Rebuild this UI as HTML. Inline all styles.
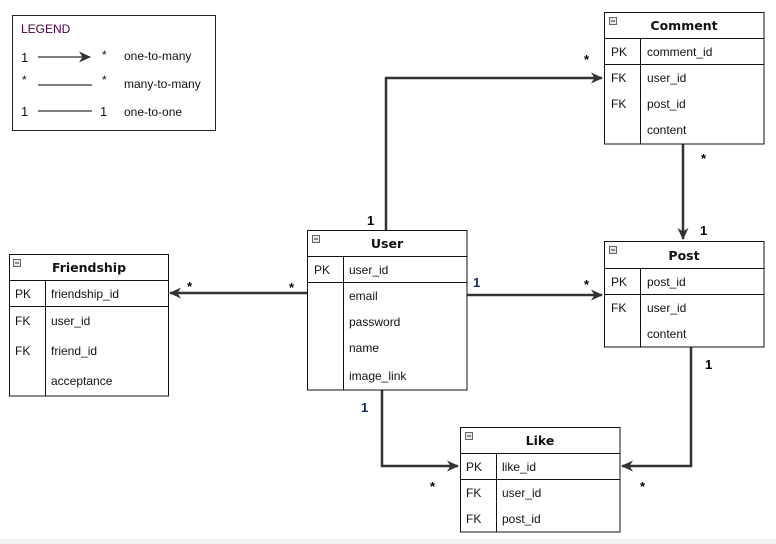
<!DOCTYPE html>
<html><head><meta charset="utf-8"><style>
html,body{margin:0;padding:0;background:#fff;}
svg{display:block;}
text{font-family:"Liberation Sans",Arial,sans-serif;font-size:12px;fill:#111;}
.t{font-family:"DejaVu Sans","Liberation Sans",sans-serif;font-weight:bold;font-size:12.5px;}
.l{font-weight:bold;font-size:13px;fill:#000;}
.n{font-weight:bold;font-size:13px;fill:#1a237e;}
</style></head><body>
<svg width="776" height="544" viewBox="0 0 776 544" xmlns="http://www.w3.org/2000/svg">
<defs>
<marker id="a" markerWidth="14" markerHeight="14" refX="11" refY="7" orient="auto" markerUnits="userSpaceOnUse">
<path d="M0,1.5 L12,7 L0,12.5 L3.5,7 Z" fill="#333"/></marker>
<g id="ic"><rect x="0" y="0" width="7" height="7" fill="#e8e8e8" stroke="#666" stroke-width="1"/><line x1="1.5" y1="3.5" x2="5.5" y2="3.5" stroke="#333"/></g>
</defs>
<rect x="0" y="539" width="776" height="5" fill="#f4f4f4"/>
<!-- legend -->
<rect x="12.5" y="15.5" width="203" height="115" fill="#fff" stroke="#222"/>
<text x="21" y="33" style="fill:#4a0040">LEGEND</text>
<text x="21" y="62" style="font-size:13px">1</text>
<line x1="38" y1="57" x2="90" y2="57" stroke="#333" stroke-width="1.2" marker-end="url(#a)"/>
<text x="102" y="59">*</text><text x="124" y="60">one-to-many</text>
<text x="22" y="84">*</text>
<line x1="38" y1="85" x2="92" y2="85" stroke="#333" stroke-width="1.2"/>
<text x="102" y="84">*</text><text x="124" y="88">many-to-many</text>
<text x="21" y="116" style="font-size:13px">1</text>
<line x1="38" y1="111" x2="92" y2="111" stroke="#333" stroke-width="1.2"/>
<text x="100" y="116" style="font-size:13px">1</text><text x="124" y="116">one-to-one</text>

<!-- connectors -->
<g stroke="#333" stroke-width="2.5" fill="none">
<polyline points="386,230 386,78 602,78" marker-end="url(#a)"/>
<line x1="683" y1="144" x2="683" y2="239" marker-end="url(#a)"/>
<line x1="467" y1="295" x2="602" y2="295" marker-end="url(#a)"/>
<line x1="307" y1="293" x2="170" y2="293" marker-end="url(#a)"/>
<polyline points="382,390 382,466 458,466" marker-end="url(#a)"/>
<polyline points="691,347 691,466 622,466" marker-end="url(#a)"/>
</g>
<text class="n" x="367" y="225" style="fill:#000">1</text>
<text class="l" x="584" y="64">*</text>
<text class="l" x="701" y="163">*</text>
<text class="l" x="700" y="235" style="fill:#000">1</text>
<text class="n" x="473" y="287">1</text>
<text class="l" x="584" y="289">*</text>
<text class="l" x="187" y="291">*</text>
<text class="l" x="289" y="292">*</text>
<text class="n" x="361" y="412">1</text>
<text class="l" x="430" y="491">*</text>
<text class="l" x="640" y="491">*</text>
<text class="l" x="705" y="369" style="fill:#000">1</text>

<!-- Comment -->
<g>
<rect x="604.5" y="12.5" width="159.5" height="131.5" fill="#fff" stroke="#111"/>
<line x1="604.5" y1="38.5" x2="764" y2="38.5" stroke="#111"/>
<line x1="604.5" y1="64.5" x2="764" y2="64.5" stroke="#111"/>
<line x1="640.5" y1="38.5" x2="640.5" y2="144" stroke="#111"/>
<use href="#ic" x="609.5" y="17.5"/>
<text class="t" x="684" y="30" text-anchor="middle">Comment</text>
<text x="611" y="56">PK</text><text x="647" y="56">comment_id</text>
<text x="611" y="82">FK</text><text x="647" y="82">user_id</text>
<text x="611" y="108">FK</text><text x="647" y="108">post_id</text>
<text x="647" y="134">content</text>
</g>
<!-- Post -->
<g>
<rect x="604.5" y="241.5" width="159.5" height="105.5" fill="#fff" stroke="#111"/>
<line x1="604.5" y1="268.5" x2="764" y2="268.5" stroke="#111"/>
<line x1="604.5" y1="294.5" x2="764" y2="294.5" stroke="#111"/>
<line x1="640.5" y1="268.5" x2="640.5" y2="347" stroke="#111"/>
<use href="#ic" x="609.5" y="246.5"/>
<text class="t" x="684" y="260" text-anchor="middle">Post</text>
<text x="611" y="286">PK</text><text x="647" y="286">post_id</text>
<text x="611" y="312">FK</text><text x="647" y="312">user_id</text>
<text x="647" y="338">content</text>
</g>
<!-- User -->
<g>
<rect x="307.5" y="230.5" width="159.5" height="159.5" fill="#fff" stroke="#111"/>
<line x1="307.5" y1="256.5" x2="467" y2="256.5" stroke="#111"/>
<line x1="307.5" y1="282.5" x2="467" y2="282.5" stroke="#111"/>
<line x1="343.5" y1="256.5" x2="343.5" y2="390" stroke="#111"/>
<use href="#ic" x="312.5" y="235.5"/>
<text class="t" x="387" y="248" text-anchor="middle">User</text>
<text x="314" y="274">PK</text><text x="349" y="274">user_id</text>
<text x="349" y="300">email</text>
<text x="349" y="326">password</text>
<text x="349" y="352">name</text>
<text x="349" y="380">image_link</text>
</g>
<!-- Friendship -->
<g>
<rect x="9.5" y="254.5" width="159" height="141.5" fill="#fff" stroke="#111"/>
<line x1="9.5" y1="280.5" x2="168.5" y2="280.5" stroke="#111"/>
<line x1="9.5" y1="306.5" x2="168.5" y2="306.5" stroke="#111"/>
<line x1="45.5" y1="280.5" x2="45.5" y2="396" stroke="#111"/>
<use href="#ic" x="13.5" y="259.5"/>
<text class="t" x="89" y="272" text-anchor="middle">Friendship</text>
<text x="15" y="298">PK</text><text x="51" y="298">friendship_id</text>
<text x="15" y="325">FK</text><text x="51" y="325">user_id</text>
<text x="15" y="355">FK</text><text x="51" y="355">friend_id</text>
<text x="51" y="385">acceptance</text>
</g>
<!-- Like -->
<g>
<rect x="460.5" y="427.5" width="159.5" height="104.5" fill="#fff" stroke="#111"/>
<line x1="460.5" y1="453.5" x2="620" y2="453.5" stroke="#111"/>
<line x1="460.5" y1="479.5" x2="620" y2="479.5" stroke="#111"/>
<line x1="496.5" y1="453.5" x2="496.5" y2="532" stroke="#111"/>
<use href="#ic" x="465.5" y="432.5"/>
<text class="t" x="540" y="445" text-anchor="middle">Like</text>
<text x="466" y="471">PK</text><text x="502" y="471">like_id</text>
<text x="466" y="497">FK</text><text x="502" y="497">user_id</text>
<text x="466" y="523">FK</text><text x="502" y="523">post_id</text>
</g>
</svg>
</body></html>
